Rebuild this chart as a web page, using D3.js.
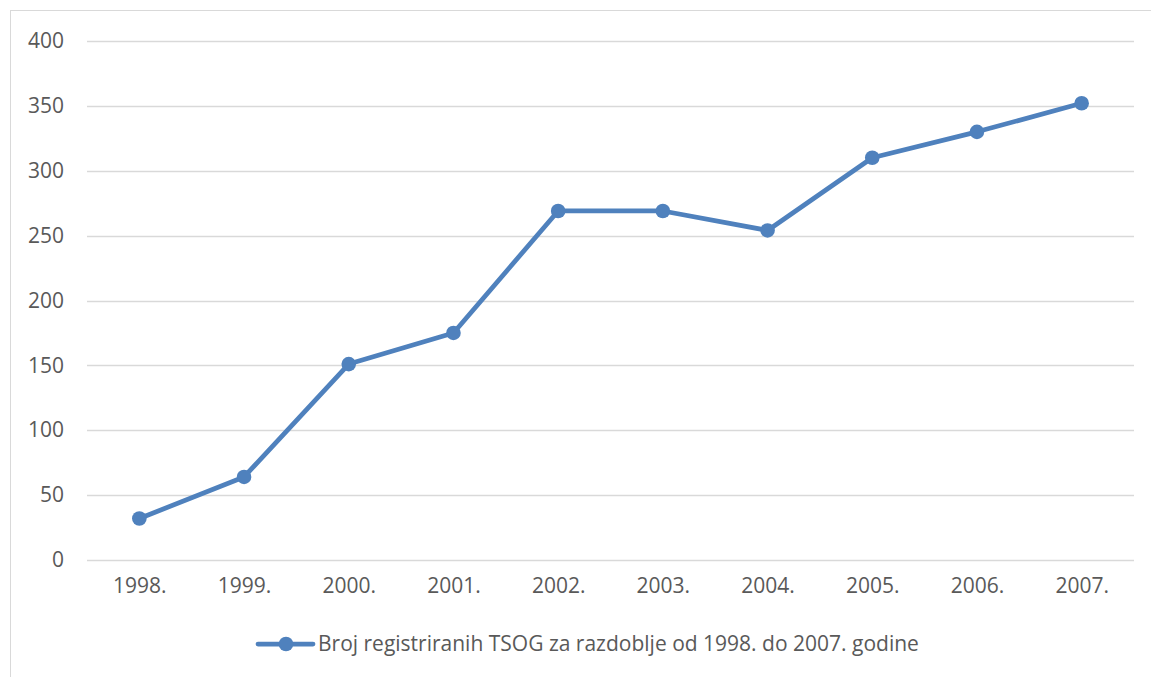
<!DOCTYPE html>
<html>
<head>
<meta charset="utf-8">
<script src="https://cdn.jsdelivr.net/npm/d3@7"></script>
<style>
  body { margin: 0; background: #fff; }
  text { font-family: "Open Sans", "Noto Sans", sans-serif; fill: #595959; }
</style>
</head>
<body>
<svg id="chart"></svg>
<script>
var years = ["1998.", "1999.", "2000.", "2001.", "2002.", "2003.", "2004.", "2005.", "2006.", "2007."];
var counts = [32, 64, 151, 175, 269, 269, 254, 310, 330, 352];
var yTicks = [0, 50, 100, 150, 200, 250, 300, 350, 400];
var seriesName = "Broj registriranih TSOG za razdoblje od 1998. do 2007. godine";

var drawChart = function(svgSelector)
{
  var screen = { width: 1151, height: 677 };
  var margins = { top: 41, bottom: 117, left: 87, right: 17 };
  var color = "#4f81bd";
  var fontSize = 21;

  var svg = d3.select(svgSelector)
              .attr("width", screen.width)
              .attr("height", screen.height);

  // outer chart border (runs off the right and bottom)
  svg.append("rect")
     .attr("x", 10.5).attr("y", 10.5)
     .attr("width", 1200).attr("height", 700)
     .attr("fill", "none")
     .style("stroke", "#d9d9d9")
     .style("stroke-width", 1);

  var xScale = d3.scalePoint()
                 .domain(years)
                 .range([margins.left, screen.width - margins.right])
                 .padding(0.5);

  var yScale = d3.scaleLinear()
                 .domain([0, 400])
                 .range([screen.height - margins.bottom, margins.top]);

  // gridlines
  svg.append("g")
     .selectAll("line")
     .data(yTicks)
     .enter()
     .append("line")
     .attr("x1", margins.left)
     .attr("x2", screen.width - margins.right)
     .attr("y1", function(d){ return Math.round(yScale(d)) + 0.5; })
     .attr("y2", function(d){ return Math.round(yScale(d)) + 0.5; })
     .style("stroke", "#d9d9d9")
     .style("stroke-width", 1.3);

  var yAxis = d3.axisLeft(yScale).tickValues(yTicks).tickSize(0).tickPadding(23);
  var yG = svg.append("g")
     .attr("transform", "translate(" + margins.left + ",0)")
     .call(yAxis);
  yG.select(".domain").remove();

  var xAxis = d3.axisBottom(xScale).tickSize(0).tickPadding(18);
  var xG = svg.append("g")
     .attr("transform", "translate(0," + (screen.height - margins.bottom) + ")")
     .call(xAxis);
  xG.select(".domain").remove();

  svg.selectAll("g").attr("font-family", null).attr("font-size", null);
  svg.selectAll(".tick text").attr("font-size", fontSize).style("fill", "#595959");

  var line = d3.line()
               .x(function(d, i){ return xScale(years[i]); })
               .y(function(d){ return yScale(d); });

  svg.append("path")
     .datum(counts)
     .attr("d", line)
     .attr("fill", "none")
     .style("stroke", color)
     .style("stroke-width", 4.75)
     .style("stroke-linejoin", "round");

  svg.append("g")
     .selectAll("circle")
     .data(counts)
     .enter()
     .append("circle")
     .attr("cx", function(d, i){ return xScale(years[i]); })
     .attr("cy", function(d){ return yScale(d); })
     .attr("r", 7.3)
     .attr("fill", color);

  // legend
  var legend = svg.append("g").attr("transform", "translate(258,644)");
  legend.append("line")
        .attr("x1", 0).attr("x2", 55)
        .attr("y1", 0).attr("y2", 0)
        .style("stroke", color)
        .style("stroke-width", 4.75)
        .style("stroke-linecap", "round");
  legend.append("circle")
        .attr("cx", 28).attr("cy", 0).attr("r", 7.3)
        .attr("fill", color);
  legend.append("text")
        .attr("x", 60).attr("y", 0)
        .attr("dy", "0.35em")
        .attr("font-size", fontSize)
        .text(seriesName);
}

drawChart("#chart");
</script>
</body>
</html>
